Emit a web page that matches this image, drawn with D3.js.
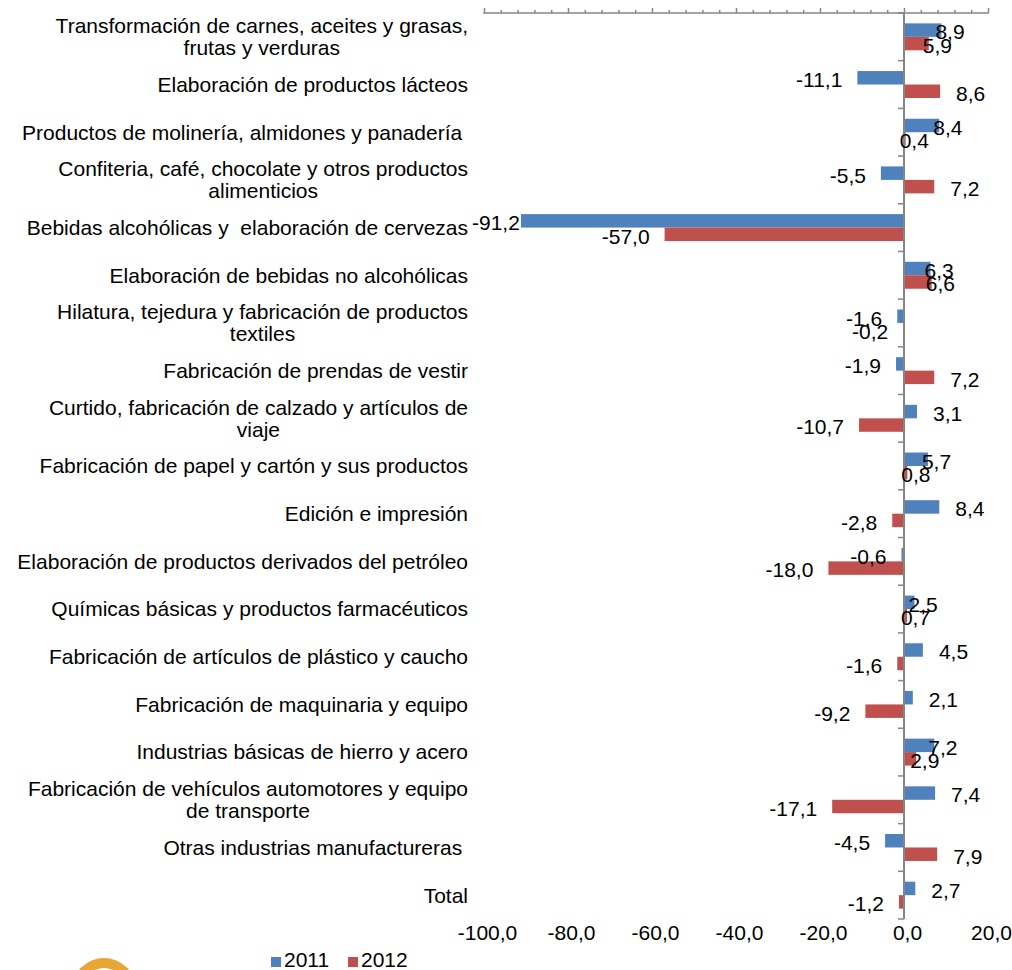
<!DOCTYPE html>
<html>
<head>
<meta charset="utf-8">
<script src="https://cdn.jsdelivr.net/npm/d3@7"></script>
<style>
  body { margin: 0; background: #fff; }
  text { font-family: "Liberation Sans", Arial, sans-serif; fill: #000; white-space: pre; }
</style>
</head>
<body>
<div id="chart"></div>
<script>
// categories, one entry per line of the label
var categories = [
	["Transformación de carnes, aceites y grasas,", "frutas y verduras"],
	["Elaboración de productos lácteos"],
	["Productos de molinería, almidones y panadería "],
	["Confiteria, café, chocolate y otros productos", "alimenticios"],
	["Bebidas alcohólicas y  elaboración de cervezas"],
	["Elaboración de bebidas no alcohólicas"],
	["Hilatura, tejedura y fabricación de productos", "textiles"],
	["Fabricación de prendas de vestir"],
	["Curtido, fabricación de calzado y artículos de", "viaje"],
	["Fabricación de papel y cartón y sus productos"],
	["Edición e impresión"],
	["Elaboración de productos derivados del petróleo"],
	["Químicas básicas y productos farmacéuticos"],
	["Fabricación de artículos de plástico y caucho"],
	["Fabricación de maquinaria y equipo"],
	["Industrias básicas de hierro y acero"],
	["Fabricación de vehículos automotores y equipo", "de transporte"],
	["Otras industrias manufactureras "],
	["Total"]
];

var values2011 = [8.9, -11.1, 8.4, -5.5, -91.2, 6.3, -1.6, -1.9, 3.1, 5.7, 8.4, -0.6, 2.5, 4.5, 2.1, 7.2, 7.4, -4.5, 2.7];
var values2012 = [5.9, 8.6, 0.4, 7.2, -57.0, 6.6, -0.2, 7.2, -10.7, 0.8, -2.8, -18.0, 0.7, -1.6, -9.2, 2.9, -17.1, 7.9, -1.2];

var seriesNames = ["2011", "2012"];
var seriesColors = ["#4F81BD", "#C0504D"];
var xTicks = [-100, -80, -60, -40, -20, 0, 20];

var width = 1012;
var height = 970;
var fontSize = 21;

var svg = d3.select("#chart").append("svg")
	.attr("width", width)
	.attr("height", height);

var x = d3.scaleLinear().domain([-100, 20]).range([484, 988]);
var y = d3.scaleBand().domain(d3.range(categories.length)).range([13, 919]);
var ySub = d3.scaleBand().domain([0, 1]).range([0, y.bandwidth()]).paddingOuter(0.77);

var fmt = function(v) { return d3.format(".1f")(v).replace(".", ",").replace("\u2212", "-"); };

// build rows
var rows = categories.map(function(c, i) {
	return { i: i, lines: c, vals: [values2011[i], values2012[i]] };
});

// bars
var barData = [];
rows.forEach(function(r) {
	r.vals.forEach(function(v, s) {
		barData.push({ i: r.i, s: s, v: v, both: r.vals[0] > 0 && r.vals[1] > 0 });
	});
});

svg.append("g")
	.selectAll("rect")
	.data(barData)
	.enter().append("rect")
		.attr("x", function(d) { return x(Math.min(0, d.v)); })
		.attr("y", function(d) { return y(d.i) + ySub(d.s); })
		.attr("width", function(d) { return Math.abs(x(d.v) - x(0)); })
		.attr("height", ySub.bandwidth())
		.attr("fill", function(d) { return seriesColors[d.s]; });

// top axis with minor ticks
var axisY = 13;
var topAxis = svg.append("g")
	.attr("transform", "translate(0," + axisY + ")")
	.call(d3.axisTop(x).tickValues(d3.range(-100, 21, 4)).tickSize(3).tickFormat(""));
topAxis.selectAll(".tick line")
	.attr("y2", function(d) { return d % 20 === 0 ? -5 : -3; });
topAxis.selectAll("line, path").attr("stroke", "#868686").attr("stroke-width", 1.5);
topAxis.select(".domain").attr("d", "M" + x(-100) + ",-0.5V0H" + x(20) + "V-0.5");

// tick labels at the bottom
var bottomAxis = svg.append("g")
	.attr("transform", "translate(0,933)")
	.call(d3.axisBottom(x).tickValues(xTicks).tickSize(0).tickFormat(fmt));
bottomAxis.select(".domain").remove();
bottomAxis.selectAll("text")
	.attr("x", 3)
	.attr("y", 0)
	.attr("dy", "0.35em")
	.style("font-size", fontSize + "px")
	.style("font-family", "'Liberation Sans', Arial, sans-serif")
	.attr("fill", "#000");

// zero line with category ticks
var yAxis = svg.append("g")
	.attr("transform", "translate(" + x(0) + ",0)");
yAxis.append("line")
	.attr("y1", y.range()[0]).attr("y2", y.range()[1])
	.attr("stroke", "#868686").attr("stroke-width", 2);
yAxis.selectAll("line.cat")
	.data(d3.range(categories.length + 1))
	.enter().append("line")
		.attr("class", "cat")
		.attr("x1", -6).attr("x2", 0)
		.attr("y1", function(d) { return y.range()[0] + d * y.step(); })
		.attr("y2", function(d) { return y.range()[0] + d * y.step(); })
		.attr("stroke", "#868686").attr("stroke-width", 1.5);

// category labels: block right aligned, lines centred to each other
var labelRight = 468;
var lineH = 22;
var catG = svg.append("g")
	.selectAll("g")
	.data(rows)
	.enter().append("g");

catG.each(function(r) {
	var g = d3.select(this);
	var cy = y(r.i) + y.bandwidth() / 2;
	var texts = g.selectAll("text")
		.data(r.lines)
		.enter().append("text")
			.style("font-size", fontSize + "px")
			.attr("text-anchor", "middle")
			.attr("dy", "0.35em")
			.attr("y", function(d, k) { return cy + (k - (r.lines.length - 1) / 2) * lineH; })
			.text(function(d) { return d; });
	var maxW = 0;
	texts.each(function() { maxW = Math.max(maxW, this.getComputedTextLength()); });
	texts.attr("x", labelRight - maxW / 2);
});

// data labels
svg.append("g")
	.selectAll("text")
	.data(barData)
	.enter().append("text")
		.style("font-size", fontSize + "px")
		.attr("dy", "0.35em")
		.attr("y", function(d) { return y(d.i) + ySub(d.s) + ySub.bandwidth() / 2 + 2; })
		.attr("text-anchor", "start")
		.text(function(d) { return fmt(d.v); })
		.attr("x", function(d) {
			if (d.v < 0) {
				var w = this.getComputedTextLength();
				// keep clear of the category labels
				return Math.max(x(d.v) - 15 - w, labelRight + 4);
			}
			return d.both ? x(d.v) - 6 : x(d.v) + 16;
		});

// legend
var legend = svg.append("g")
	.attr("transform", "translate(271,960)");
var item = legend.selectAll("g")
	.data(seriesNames)
	.enter().append("g")
		.attr("transform", function(d, i) { return "translate(" + (i * 77) + ",0)"; });
item.append("rect")
	.attr("x", 0).attr("y", -3)
	.attr("width", 10).attr("height", 10)
	.attr("fill", function(d, i) { return seriesColors[i]; });
item.append("text")
	.attr("x", 13)
	.attr("dy", "0.35em")
	.style("font-size", fontSize + "px")
	.text(function(d) { return d; });

// logo fragment, bottom left
svg.append("path")
	.attr("transform", "translate(104,990)")
	.attr("d", d3.arc().innerRadius(22).outerRadius(32).startAngle(-Math.PI / 2).endAngle(Math.PI / 2)())
	.attr("fill", "#E8A634");
</script>
</body>
</html>
